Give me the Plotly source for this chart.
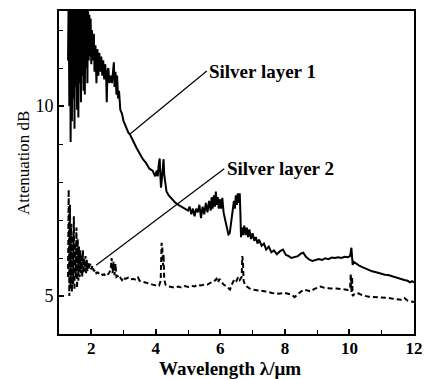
import plotly.graph_objects as go

# Silver layer 1 (solid)
x1 = [1.28, 1.30, 1.32, 1.34, 1.36, 1.38, 1.40, 1.42, 1.44, 1.46, 1.48, 1.50, 1.52, 1.54, 1.56, 1.58,
      1.60, 1.62, 1.64, 1.66, 1.68, 1.70, 1.72, 1.74, 1.76, 1.78, 1.80, 1.82, 1.84, 1.86, 1.88, 1.90,
      1.92, 1.94, 1.96, 1.98, 2.00, 2.02, 2.05, 2.08, 2.10, 2.13, 2.16, 2.19, 2.22, 2.25, 2.28, 2.31,
      2.34, 2.37, 2.40, 2.43, 2.46, 2.48, 2.50, 2.53, 2.56, 2.60, 2.64, 2.67, 2.70, 2.72, 2.75, 2.78,
      2.80, 2.83, 2.86, 2.90, 2.95, 3.00, 3.05, 3.10, 3.15, 3.20, 3.30, 3.40, 3.50, 3.60, 3.70, 3.80,
      3.90, 3.98, 4.03, 4.06, 4.09, 4.12, 4.14, 4.16, 4.19, 4.22, 4.24, 4.26, 4.29, 4.33, 4.40, 4.50,
      4.60, 4.70, 4.80, 4.90, 5.00, 5.05, 5.10, 5.15, 5.20, 5.25, 5.30, 5.35, 5.40, 5.45, 5.50, 5.55,
      5.60, 5.65, 5.70, 5.73, 5.76, 5.80, 5.83, 5.86, 5.89, 5.92, 5.95, 5.98, 6.02, 6.06, 6.10, 6.15,
      6.20, 6.25, 6.29, 6.33, 6.38, 6.42, 6.45, 6.48, 6.51, 6.54, 6.57, 6.60, 6.62, 6.64, 6.67, 6.70,
      6.74, 6.78, 6.82, 6.86, 6.90, 6.95, 7.00, 7.05, 7.10, 7.15, 7.20, 7.28, 7.35, 7.42, 7.50, 7.58,
      7.66, 7.75, 7.85, 7.94, 8.03, 8.12, 8.20, 8.30, 8.40, 8.50, 8.57, 8.65, 8.75, 8.85, 8.95, 9.05,
      9.15, 9.25, 9.35, 9.45, 9.55, 9.65, 9.75, 9.85, 9.95, 10.02, 10.06, 10.08, 10.10, 10.13, 10.20, 10.30,
      10.40, 10.50, 10.60, 10.70, 10.80, 10.90, 11.00, 11.10, 11.20, 11.30, 11.40, 11.50, 11.60, 11.70, 11.80, 11.88,
      11.94, 12.00]
y1 = [11.2, 13.0, 10.0, 13.2, 9.05, 12.8, 9.6, 13.1, 10.2, 12.9, 9.4, 13.0, 10.5, 12.7, 9.9, 13.0,
      9.7, 12.8, 10.6, 13.1, 10.1, 12.9, 10.8, 12.6, 10.4, 12.9, 10.3, 12.7, 11.0, 12.8, 10.6, 12.6,
      11.2, 12.4, 11.3, 12.3, 11.1, 12.0, 11.2, 11.9, 10.9, 11.6, 10.6, 11.5, 10.8, 11.4, 10.9, 11.3,
      10.8, 11.2, 10.7, 11.1, 10.8, 10.1, 10.9, 11.0, 10.6, 10.8, 10.6, 10.9, 11.15, 10.5, 10.9, 10.3,
      10.8, 10.2, 10.4, 9.9, 9.8, 9.6, 9.5, 9.4, 9.3, 9.25, 9.05, 8.9, 8.75, 8.6, 8.5, 8.35,
      8.3, 8.15, 8.3, 8.15, 8.45, 8.62, 8.2, 7.85, 8.1, 8.55, 8.6, 8.2, 7.95, 7.75, 7.65, 7.55,
      7.46, 7.4, 7.35, 7.3, 7.25, 7.35, 7.15, 7.3, 7.1, 7.3, 7.2, 7.4, 7.05, 7.35, 7.15, 7.45,
      7.2, 7.5, 7.25, 7.6, 7.3, 7.65, 7.35, 7.75, 7.4, 7.6, 7.3, 7.55, 7.3, 7.58, 7.2, 7.0,
      6.8, 6.62, 6.65, 6.9, 7.2, 7.5, 7.3, 7.65, 7.4, 7.7, 7.45, 7.7, 7.2, 6.55, 6.8, 6.6,
      6.85, 6.6, 6.8, 6.55, 6.75, 6.5, 6.65, 6.45, 6.55, 6.38, 6.48, 6.32, 6.38, 6.22, 6.3, 6.15,
      6.2, 6.1, 6.18, 6.22, 6.08, 6.05, 6.0, 6.02, 6.05, 6.12, 6.14, 6.03, 5.96, 5.92, 5.95, 5.97,
      5.95, 5.99, 5.97, 6.01, 6.0, 6.02, 6.0, 6.03, 6.02, 6.05, 6.27, 6.1, 5.82, 5.9, 5.85, 5.8,
      5.76, 5.72, 5.68, 5.65, 5.63, 5.6, 5.58, 5.56, 5.55, 5.52, 5.5, 5.48, 5.45, 5.42, 5.4, 5.36,
      5.39, 5.36]

# Silver layer 2 (dashed)
x2 = [1.28, 1.30, 1.32, 1.34, 1.36, 1.38, 1.40, 1.42, 1.44, 1.46, 1.48, 1.50, 1.52, 1.54, 1.56, 1.58,
      1.60, 1.62, 1.64, 1.66, 1.68, 1.70, 1.72, 1.74, 1.76, 1.78, 1.80, 1.82, 1.84, 1.86, 1.88, 1.90,
      1.93, 1.96, 2.00, 2.04, 2.08, 2.12, 2.16, 2.20, 2.25, 2.30, 2.35, 2.40, 2.45, 2.50, 2.55, 2.60,
      2.63, 2.66, 2.69, 2.72, 2.75, 2.78, 2.82, 2.86, 2.90, 2.95, 3.00, 3.05, 3.10, 3.15, 3.20, 3.30,
      3.40, 3.45, 3.50, 3.60, 3.70, 3.80, 3.90, 4.00, 4.10, 4.15, 4.18, 4.20, 4.22, 4.24, 4.26, 4.30,
      4.40, 4.50, 4.60, 4.70, 4.80, 4.90, 5.00, 5.10, 5.20, 5.30, 5.40, 5.50, 5.60, 5.70, 5.80, 5.88,
      5.93, 5.97, 6.02, 6.10, 6.20, 6.30, 6.38, 6.45, 6.50, 6.55, 6.60, 6.66, 6.68, 6.70, 6.72, 6.76,
      6.82, 6.90, 7.00, 7.20, 7.40, 7.60, 7.80, 8.00, 8.20, 8.30, 8.40, 8.50, 8.60, 8.70, 8.80, 8.90,
      9.00, 9.10, 9.20, 9.40, 9.60, 9.80, 9.95, 10.02, 10.04, 10.06, 10.08, 10.10, 10.15, 10.25, 10.40, 10.60,
      10.80, 11.00, 11.20, 11.40, 11.60, 11.70, 11.80, 11.90, 12.00]
y2 = [5.5, 7.8, 5.0, 7.4, 5.2, 6.9, 5.1, 6.6, 5.3, 7.1, 5.15, 6.4, 5.5, 6.8, 5.2, 6.5,
      5.4, 6.3, 5.5, 6.2, 5.6, 6.1, 5.5, 6.2, 5.6, 6.0, 5.65, 6.05, 5.6, 5.95, 5.65, 5.9,
      5.7, 5.85, 5.7, 5.8, 5.65, 5.7, 5.6, 5.62, 5.58, 5.6, 5.55, 5.57, 5.52, 5.56, 5.6, 5.7,
      6.0, 5.6, 5.9, 5.55, 5.85, 5.5, 5.52, 5.45, 5.48, 5.42, 5.5, 5.45, 5.47, 5.48, 5.44, 5.45,
      5.42, 5.48, 5.4, 5.37, 5.35, 5.33, 5.3, 5.28, 5.27, 5.4, 6.4, 6.3, 5.8, 6.1, 5.45, 5.3,
      5.25, 5.24, 5.22, 5.25, 5.22, 5.26, 5.24, 5.27, 5.25, 5.3, 5.28, 5.3, 5.3, 5.35, 5.38, 5.45,
      5.35, 5.45, 5.4, 5.3, 5.25, 5.17, 5.35, 5.45, 5.4, 5.5, 5.42, 5.5, 6.05, 5.9, 5.4, 5.3,
      5.25, 5.2, 5.17, 5.15, 5.12, 5.08, 5.06, 5.08, 5.04, 4.97, 5.05, 5.12, 5.17, 5.15, 5.12, 5.18,
      5.22, 5.25, 5.22, 5.2, 5.2, 5.18, 5.16, 5.2, 5.58, 5.1, 5.5, 5.0, 5.05, 5.08, 5.02, 4.98,
      4.97, 4.96, 4.95, 4.92, 4.9, 4.95, 4.88, 4.86, 4.84]

x_tickvals = [2, 4, 6, 8, 10, 12]
y_tickvals = [5, 10]
series_names = ["Silver layer 1", "Silver layer 2"]
x_title = "Wavelength λ/μm"
y_title = "Attenuation dB"

SERIF = "Liberation Serif, Times New Roman, serif"

fig = go.Figure()
fig.add_trace(go.Scatter(x=x1, y=y1, mode="lines", name=series_names[0],
                         line=dict(color="black", width=2)))
fig.add_trace(go.Scatter(x=x2, y=y2, mode="lines", name=series_names[1],
                         line=dict(color="black", width=2, dash="5px,3px")))

# pointer lines
fig.add_shape(type="line", x0=3.21, y0=9.27, x1=5.58, y1=10.92,
              line=dict(color="black", width=1.2))
fig.add_shape(type="line", x0=2.15, y0=5.81, x1=6.12, y1=8.35,
              line=dict(color="black", width=1.2))

fig.add_annotation(x=5.6, y=10.9, text="<b>" + series_names[0] + "</b>", showarrow=False,
                   xanchor="left", yanchor="middle",
                   font=dict(family=SERIF, size=19, color="black"))
fig.add_annotation(x=6.14, y=8.35, text="<b>" + series_names[1] + "</b>", showarrow=False,
                   xanchor="left", yanchor="middle",
                   font=dict(family=SERIF, size=19, color="black"))

# axis titles
fig.add_annotation(xref="paper", yref="paper", x=0.482, y=-0.108,
                   text="<b>" + x_title + "</b>", showarrow=False,
                   xanchor="center", yanchor="middle",
                   font=dict(family=SERIF, size=19, color="black"))
fig.add_annotation(xref="paper", yref="paper", x=-0.102, y=0.529,
                   text=y_title, showarrow=False, textangle=-90,
                   xanchor="center", yanchor="middle",
                   font=dict(family=SERIF, size=17, color="black"))

fig.update_xaxes(range=[1, 12], tickvals=x_tickvals,
                 ticktext=["<b>%d</b>" % v for v in x_tickvals],
                 ticks="inside", ticklen=5, tickwidth=1.5, tickcolor="black",
                 ticklabelstandoff=-2,
                 minor=dict(dtick=1, ticks="inside", ticklen=4, tickcolor="black", tickwidth=1),
                 showline=True, linecolor="black", linewidth=2, mirror=True,
                 showgrid=False, zeroline=False,
                 tickfont=dict(family=SERIF, size=17, color="black"))
fig.update_yaxes(range=[4, 12.5], tickvals=y_tickvals,
                 ticks="inside", ticklen=5, tickwidth=1.5, tickcolor="black",
                 minor=dict(dtick=1, ticks="inside", ticklen=4, tickcolor="black", tickwidth=1),
                 showline=True, linecolor="black", linewidth=2, mirror=True,
                 showgrid=False, zeroline=False,
                 tickfont=dict(family=SERIF, size=18, color="black"))

fig.update_layout(width=432, height=379,
                  margin=dict(l=59, r=10, t=9, b=45),
                  paper_bgcolor="white", plot_bgcolor="white",
                  showlegend=False)

fig.write_html("out.html")
